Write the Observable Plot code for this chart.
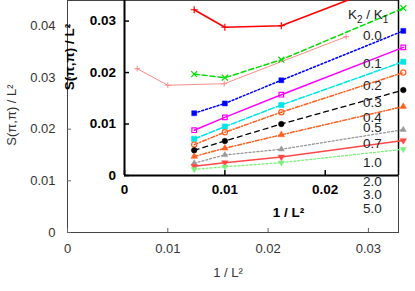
<!DOCTYPE html>
<html><head><meta charset="utf-8">
<script src="https://cdn.jsdelivr.net/npm/d3@7"></script>
<script src="https://cdn.jsdelivr.net/npm/@observablehq/plot@0.6"></script>
<style>
body{margin:0;background:#fff;}
#chart{position:relative;width:415px;height:291px;overflow:hidden;font-family:"Liberation Sans",Arial,Helvetica,sans-serif;background:#fff;}
#chart svg{position:absolute;left:0;top:0;}
</style></head><body><div id="chart"></div>
<script>
// ---- data ----
const invL2 = [1/144, 1/100, 1/64, 1/36];           // 1/L^2 for L = 12, 10, 8, 6
const ratios = ["0.0","0.1","0.2","0.3","0.4","0.5","0.7","1.0","2.0","3.0","5.0"];
const s00 = [0.0322, 0.0288, 0.0291, 0.0382];
const s01 = [0.0197, 0.0190, 0.0225, 0.0325];
const s02 = [0.0121, 0.0140, 0.0185, 0.0281];
const s03 = [0.0088, 0.0113, 0.0157, 0.0249];
const s04 = [0.0071, 0.0095, 0.0137, 0.0221];
const s05 = [0.0060, 0.0084, 0.0123, 0.0200];
const s07 = [0.0049, 0.0067, 0.0100, 0.0166];
const s10 = [0.0037, 0.0053, 0.0079, 0.0134];
const s20 = [0.0024, 0.0040, 0.0051, 0.0089];
const s30 = [0.0018, 0.0025, 0.0036, 0.0068];
const s50 = [0.0012, 0.0017, 0.0025, 0.0051];
const mainS = [0.0317, 0.0285, 0.0288, 0.0379];    // main panel curve
const mainXTicks = [0, 0.01, 0.02, 0.03];
const mainYTicks = [0, 0.01, 0.02, 0.03, 0.04];
const insetXTicks = [0, 0.01, 0.02];
const insetYTicks = [0, 0.01, 0.02, 0.03];
const xLabel = "1 / L²";
const yLabel = "S(π,π) / L²";

// ---- build tables ----
const seriesValues = [s00, s01, s02, s03, s04, s05, s07, s10, s20, s30, s50];
const series = ratios.map((k, i) => seriesValues[i].map((v, j) => ({k, x: invL2[j], y: v})));
const mainData = mainS.map((v, j) => ({x: invL2[j], y: v}));

const sqrt3 = Math.sqrt(3);
const triDown = {draw(ctx, size) {
  const y = -Math.sqrt(size / (sqrt3 * 3));
  ctx.moveTo(0, -y * 2); ctx.lineTo(-sqrt3 * y, y); ctx.lineTo(sqrt3 * y, y); ctx.closePath();
}};
const styles = [
  {c:"#ff0000", d:null,        s:"plus",     f:false, r:2.4, w:1.6},
  {c:"#00dd00", d:"5,3",       s:"times",    f:false, r:2.8, w:1.5},
  {c:"#0000ff", d:"2,2",       s:"square",   f:true,  r:2.8, w:1.5},
  {c:"#ff00ff", d:null,        s:"square",   f:false, r:2.6, w:1.5},
  {c:"#00e5e5", d:"6,2",       s:"square",   f:true,  r:3.0, w:1.5},
  {c:"#ff6020", d:"4,2,1,2",   s:"circle",   f:false, r:2.6, w:1.5},
  {c:"#000000", d:"5,4",       s:"circle",   f:true,  r:2.8, w:1.3},
  {c:"#ff6020", d:"4,2,1,2",   s:"triangle", f:true,  r:2.4, w:1.5},
  {c:"#999999", d:"2,2",       s:"triangle", f:true,  r:2.2, w:1.3},
  {c:"#ff4848", d:null,        s:triDown,    f:true,  r:2.4, w:1.5},
  {c:"#7cf07c", d:"2,2",       s:triDown,    f:true,  r:2.2, w:1.3}
];
const fmt = d => d === 0 ? "0" : d3.format(".2f")(d);
const FONT = '"Liberation Sans", Arial, Helvetica, sans-serif';

// ---- main panel ----
const main = Plot.plot({
  width: 415, height: 291,
  marginLeft: 67, marginRight: 17, marginTop: 0, marginBottom: 59,
  x: {domain: [0, 0.033]},
  y: {domain: [0, 0.0449]},
  style: {fontFamily: FONT, fontSize: "13px", color: "#333", background: "white"},
  marks: [
    Plot.frame({stroke: "#444"}),
    Plot.axisX(mainXTicks, {tickSize: -4, tickPadding: 15, tickFormat: fmt, label: null, stroke: "#666"}),
    Plot.axisY(mainYTicks, {tickSize: -4, tickPadding: 16, tickFormat: fmt, label: null, stroke: "#666"}),
    Plot.line(mainData, {x: "x", y: "y", stroke: "#ff8c8c", strokeWidth: 1}),
    Plot.dot(mainData, {x: "x", y: "y", symbol: "plus", r: 2, stroke: "#ff8c8c", strokeWidth: 1}),
    Plot.text([xLabel], {text: d => d, frameAnchor: "bottom", dx: -5, dy: 40, lineAnchor: "middle", fill: "#333", fontSize: 13})
  ]
});

// ---- inset panel ----
const insetXMax = 0.0273;
const insetMarks = [
  Plot.ruleY([0], {stroke: "#000", strokeWidth: 2}),
  Plot.ruleX([0], {stroke: "#000", strokeWidth: 2}),
  Plot.ruleX([insetXMax], {stroke: "#000", strokeWidth: 1.5}),
  Plot.axisX(insetXTicks, {tickSize: -5, tickPadding: 13.5, tickFormat: fmt, label: null, strokeWidth: 1.5, fontWeight: "bold"}),
  Plot.axisY(insetYTicks, {tickSize: -5, tickPadding: 13.5, tickFormat: fmt, label: null, strokeWidth: 1.5, fontWeight: "bold"})
];
series.forEach((data, i) => {
  const st = styles[i];
  insetMarks.push(Plot.line(data, {x: "x", y: "y", stroke: st.c, strokeWidth: st.w, strokeDasharray: st.d}));
  insetMarks.push(Plot.dot(data, {x: "x", y: "y", symbol: st.s, r: st.r,
    fill: st.f ? st.c : "none", stroke: st.c, strokeWidth: st.f ? 0.5 : 1.2}));
});
insetMarks.push(
  Plot.text([xLabel], {text: d => d, frameAnchor: "bottom", dx: 27, dy: 37, lineAnchor: "middle", fill: "#000", fontWeight: "bold", fontSize: 13.5})
);
const inset = Plot.plot({
  width: 415, height: 291,
  marginLeft: 124, marginRight: 17, marginTop: 0, marginBottom: 116,
  x: {domain: [0, insetXMax]},
  y: {domain: [0, 0.034]},
  style: {fontFamily: FONT, fontSize: "13.5px", color: "#000", background: "transparent", overflow: "visible"},
  marks: insetMarks
});

// ---- overlay: rotated axis titles and key labels ----
const ov = d3.create("svg").attr("width", 415).attr("height", 291)
  .style("font-family", FONT).style("pointer-events", "none");
ov.append("text").attr("transform", "translate(11,115) rotate(-90)")
  .attr("text-anchor", "middle").attr("dy", "0.35em").attr("font-size", 13).attr("fill", "#333").text(yLabel);
ov.append("text").attr("transform", "translate(69,57) rotate(-90)")
  .attr("text-anchor", "middle").attr("dy", "0.35em").attr("font-size", 13.5).attr("font-weight", "bold").attr("fill", "#000").text(yLabel);

const keyX = 363, keyTitleX = 348, keyTitleBaseline = 19;
const keyBaselines = [40, 68, 90, 107, 122, 132, 148, 167, 186, 199, 213];
const t = ov.append("text").attr("x", keyTitleX).attr("y", keyTitleBaseline).attr("font-size", 13.5).attr("fill", "#222");
t.append("tspan").text("K");
t.append("tspan").attr("font-size", 10).attr("dy", 4).text("2");
t.append("tspan").attr("dy", -4).text(" / K");
t.append("tspan").attr("font-size", 10).attr("dy", 4).text("1");
ov.selectAll("text.k").data(ratios).join("text").attr("class", "k")
  .attr("x", keyX).attr("y", (d, i) => keyBaselines[i])
  .attr("font-size", 13.5).attr("fill", "#222").text(d => d);

const chart = document.getElementById("chart");
chart.append(main, inset, ov.node());
</script></body></html>
